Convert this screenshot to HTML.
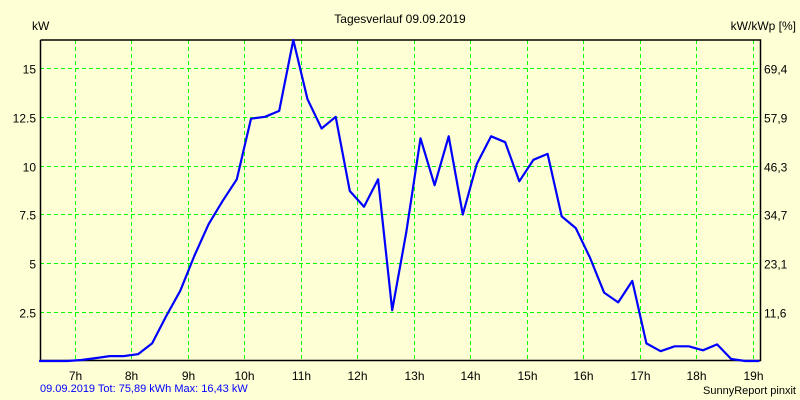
<!DOCTYPE html>
<html><head><meta charset="utf-8"><style>
body{margin:0;background:#ffffd5;}
svg{display:block;font-family:"Liberation Sans",sans-serif;}
</style></head><body>
<svg id="c" width="800" height="400">
<rect width="800" height="400" fill="#ffffd5"/>
<text x="400" y="23" font-size="12" text-anchor="middle">Tagesverlauf 09.09.2019</text>
<text x="32" y="30" font-size="12">kW</text>
<text x="796" y="30" font-size="12" text-anchor="end">kW/kWp [%]</text>
<g id="grid"></g>
<g id="axes"></g>
<text x="40" y="392" font-size="11" fill="#0000ff">09.09.2019 Tot: 75,89 kWh Max: 16,43 kW</text>
<text x="796" y="394" font-size="11" text-anchor="end">SunnyReport pinxit</text>
</svg>
<script>
const hours=[7,8,9,10,11,12,13,14,15,16,17,18,19];
const yTicks=[2.5,5,7.5,10,12.5,15];
const yTickLabels=["2.5","5","7.5","10","12.5","15"];
const y2TickLabels=["11,6","23,1","34,7","46,3","57,9","69,4"];
const times=[6.37,6.62,6.87,7.12,7.37,7.62,7.87,8.12,8.37,8.62,8.87,9.12,9.37,9.62,9.87,10.12,10.37,10.62,10.87,11.12,11.37,11.62,11.87,12.12,12.37,12.62,12.87,13.12,13.37,13.62,13.87,14.12,14.37,14.62,14.87,15.12,15.37,15.62,15.87,16.12,16.37,16.62,16.87,17.12,17.37,17.62,17.87,18.12,18.37,18.62,18.87,19.12];
const power=[0,0,0,0.05,0.15,0.25,0.25,0.35,0.9,2.3,3.6,5.4,7.0,8.2,9.3,12.4,12.5,12.8,16.43,13.4,11.9,12.5,8.7,7.9,9.3,2.6,6.6,11.4,9.0,11.5,7.5,10.1,11.5,11.2,9.2,10.3,10.6,7.4,6.8,5.3,3.5,3.0,4.1,0.9,0.5,0.75,0.75,0.55,0.85,0.1,0,0];
const L=40,R=760,T=40,B=360;
const xMin=6.386,xMax=19.13,yMax=16.43;
const X=h=>L+(h-xMin)/(xMax-xMin)*(R-L);
const Y=v=>B+1-v/yMax*(B+1-T);
const NS="http://www.w3.org/2000/svg";
const svg=document.getElementById('c');
const grid=document.getElementById('grid'),axes=document.getElementById('axes');
function mk(tag,attrs,parent){const e=document.createElementNS(NS,tag);for(const k in attrs)e.setAttribute(k,attrs[k]);parent.appendChild(e);return e;}
hours.forEach(h=>{
 const x=Math.round(X(h))+0.5;
 const g=mk('line',{x1:x,x2:x,y1:T,y2:B,stroke:'#00ff00','stroke-width':1,'stroke-dasharray':'4,3'},grid);
 
 
 const t=mk('text',{x:x,y:B+20,'font-size':12,'text-anchor':'middle'},axes);
 t.textContent=h+'h';
 
 
});
yTicks.forEach((v,i)=>{
 const y=Math.round(Y(v))+0.5;
 const g=mk('line',{x1:L,x2:R,y1:y,y2:y,stroke:'#00ff00','stroke-width':1,'stroke-dasharray':'4,3'},grid);
 
 
 const t=mk('text',{x:L-4,y:y+5,'font-size':12,'text-anchor':'end'},axes);
 t.textContent=yTickLabels[i];
 
 
 const t2=mk('text',{x:R+4,y:y+5,'font-size':12},axes);
 t2.textContent=y2TickLabels[i];
 
 
});
const frame=mk('path',{d:`M${L+0.5},${T} V${B+0.5} H${R+0.5} V${T} H${L+0.5}`,fill:'none',stroke:'#000','stroke-width':1.5},axes);


const pts=times.map((t,i)=>X(Math.min(t,xMax)).toFixed(1)+','+Y(power[i]).toFixed(1)).join(' ');
const line=mk('polyline',{points:pts,fill:'none',stroke:'#0000ff','stroke-width':2.2,'stroke-linejoin':'round'},svg);


</script>
</body></html>
